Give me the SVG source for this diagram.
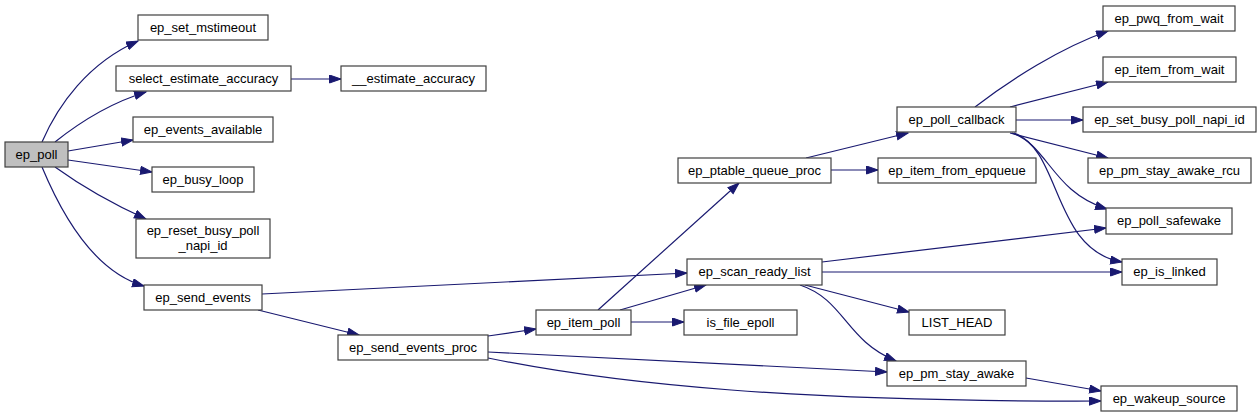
<svg xmlns="http://www.w3.org/2000/svg" width="1260" height="417" viewBox="0 0 1260 417">
<style>
.n rect{fill:#ffffff;stroke:#404040;stroke-width:1.2}
.n.root rect{fill:#bfbfbf}
.n text{font-family:"Liberation Sans",Arial,sans-serif;font-size:13px;fill:#000;text-anchor:middle}
.e path{fill:none;stroke:#191970;stroke-width:1.2}
</style>
<defs>
<marker id="arr" markerUnits="userSpaceOnUse" markerWidth="14" markerHeight="11" refX="12" refY="4.5" orient="auto">
<path d="M0.5,0.5 L12,4.5 L0.5,8.5 z" fill="#191970" stroke="#191970" stroke-width="1"/>
</marker>
</defs>
<rect width="1260" height="417" fill="#ffffff"/>
<g id="edges" class="e">
<path marker-end="url(#arr)" d="M42,142 C58,105 88,63 138,41"/>
<path marker-end="url(#arr)" d="M55,142 C80,122 110,103 146,92"/>
<path marker-end="url(#arr)" d="M68,151 L133,140"/>
<path marker-end="url(#arr)" d="M68,160 L152,172"/>
<path marker-end="url(#arr)" d="M55,167 C80,185 115,205 146,219"/>
<path marker-end="url(#arr)" d="M42,167 C62,215 95,272 144,286"/>
<path marker-end="url(#arr)" d="M291,79 L341,79"/>
<path marker-end="url(#arr)" d="M262,294 L687,273"/>
<path marker-end="url(#arr)" d="M258,310 L359,335"/>
<path marker-end="url(#arr)" d="M488,336 L536,329"/>
<path marker-end="url(#arr)" d="M488,352 L887,372"/>
<path marker-end="url(#arr)" d="M488,358 C620,385 800,402 1101,401"/>
<path marker-end="url(#arr)" d="M598,310 L739,183"/>
<path marker-end="url(#arr)" d="M620,310 L706,285"/>
<path marker-end="url(#arr)" d="M631,322 L684,322"/>
<path marker-end="url(#arr)" d="M806,158 L908,133"/>
<path marker-end="url(#arr)" d="M831,170 L878,170"/>
<path marker-end="url(#arr)" d="M822,262 L1106,228"/>
<path marker-end="url(#arr)" d="M822,272 L1122,272"/>
<path marker-end="url(#arr)" d="M805,285 L909,312"/>
<path marker-end="url(#arr)" d="M800,285 C845,300 845,340 896,361"/>
<path marker-end="url(#arr)" d="M975,107 C1010,80 1060,48 1108,31"/>
<path marker-end="url(#arr)" d="M1010,107 L1108,82"/>
<path marker-end="url(#arr)" d="M1016,120 L1083,120"/>
<path marker-end="url(#arr)" d="M1010,133 L1108,158"/>
<path marker-end="url(#arr)" d="M1012,133 C1048,145 1052,192 1107,209"/>
<path marker-end="url(#arr)" d="M1014,133 C1062,150 1052,250 1122,262"/>
<path marker-end="url(#arr)" d="M1026,378 L1101,391"/>
</g>
<g id="ep_poll" class="n root"><rect x="5" y="142" width="63" height="25"/><text x="36.5" y="159">ep_poll</text></g>
<g id="ep_set_mstimeout" class="n"><rect x="138" y="15" width="130" height="25"/><text x="203" y="32">ep_set_mstimeout</text></g>
<g id="select_estimate_accuracy" class="n"><rect x="116" y="66" width="175" height="25"/><text x="203.5" y="83">select_estimate_accuracy</text></g>
<g id="__estimate_accuracy" class="n"><rect x="341" y="66" width="145" height="25"/><text x="413.5" y="83">__estimate_accuracy</text></g>
<g id="ep_events_available" class="n"><rect x="133" y="117" width="140" height="25"/><text x="203" y="134">ep_events_available</text></g>
<g id="ep_busy_loop" class="n"><rect x="152" y="167" width="102" height="25"/><text x="203" y="184">ep_busy_loop</text></g>
<g id="ep_reset_busy_poll_napi_id" class="n"><rect x="136" y="219" width="134" height="39"/><text x="203" y="235">ep_reset_busy_poll</text><text x="203" y="250">_napi_id</text></g>
<g id="ep_send_events" class="n"><rect x="144" y="285" width="118" height="25"/><text x="203" y="302">ep_send_events</text></g>
<g id="ep_send_events_proc" class="n"><rect x="338" y="335" width="150" height="25"/><text x="413" y="352">ep_send_events_proc</text></g>
<g id="ep_item_poll" class="n"><rect x="536" y="310" width="95" height="25"/><text x="583.5" y="327">ep_item_poll</text></g>
<g id="is_file_epoll" class="n"><rect x="684" y="310" width="113" height="25"/><text x="740.5" y="327">is_file_epoll</text></g>
<g id="ep_ptable_queue_proc" class="n"><rect x="678" y="158" width="153" height="25"/><text x="754.5" y="175">ep_ptable_queue_proc</text></g>
<g id="ep_scan_ready_list" class="n"><rect x="687" y="259" width="135" height="26"/><text x="754.5" y="276">ep_scan_ready_list</text></g>
<g id="ep_poll_callback" class="n"><rect x="897" y="107" width="119" height="25"/><text x="956.5" y="124">ep_poll_callback</text></g>
<g id="ep_item_from_epqueue" class="n"><rect x="878" y="158" width="158" height="25"/><text x="957" y="175">ep_item_from_epqueue</text></g>
<g id="ep_pwq_from_wait" class="n"><rect x="1103" y="6" width="132" height="25"/><text x="1169" y="23">ep_pwq_from_wait</text></g>
<g id="ep_item_from_wait" class="n"><rect x="1103" y="57" width="133" height="25"/><text x="1169.5" y="74">ep_item_from_wait</text></g>
<g id="ep_set_busy_poll_napi_id" class="n"><rect x="1083" y="107" width="173" height="25"/><text x="1169.5" y="124">ep_set_busy_poll_napi_id</text></g>
<g id="ep_pm_stay_awake_rcu" class="n"><rect x="1088" y="158" width="163" height="25"/><text x="1169.5" y="175">ep_pm_stay_awake_rcu</text></g>
<g id="ep_poll_safewake" class="n"><rect x="1106" y="208" width="126" height="26"/><text x="1169" y="225">ep_poll_safewake</text></g>
<g id="ep_is_linked" class="n"><rect x="1122" y="259" width="95" height="26"/><text x="1169.5" y="276">ep_is_linked</text></g>
<g id="LIST_HEAD" class="n"><rect x="909" y="310" width="96" height="25"/><text x="957" y="327">LIST_HEAD</text></g>
<g id="ep_pm_stay_awake" class="n"><rect x="887" y="361" width="139" height="25"/><text x="956.5" y="378">ep_pm_stay_awake</text></g>
<g id="ep_wakeup_source" class="n"><rect x="1101" y="386" width="136" height="25"/><text x="1169" y="403">ep_wakeup_source</text></g>
</svg>
